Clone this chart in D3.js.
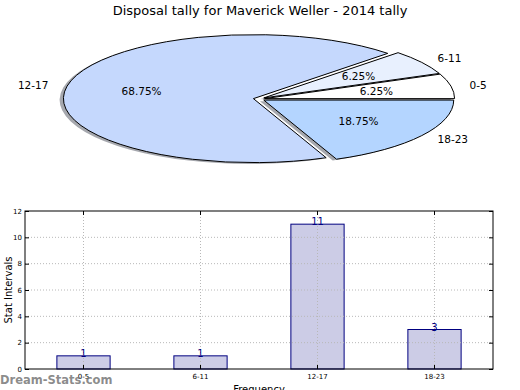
<!DOCTYPE html>
<html><head><meta charset="utf-8">
<script src="https://cdn.jsdelivr.net/npm/d3@7"></script>
<style>body{margin:0;background:#fff}svg{display:block;font-family:"DejaVu Sans",sans-serif}</style>
</head><body>
<script>
const title = "Disposal tally for Maverick Weller - 2014 tally";
const categories = ["0-5", "6-11", "12-17", "18-23"];
const values = [1, 1, 11, 3];
const pieColors = ["#ffffff", "#e8f0fe", "#c5d8fd", "#b4d5ff"];
const yTicks = [0, 2, 4, 6, 8, 10, 12];
const yLabel = "Stat Intervals";
const xLabel = "Frequency";
const watermark = "Dream-Stats.com";

const W = 520, H = 390;
const svg = d3.select("body").append("svg").attr("width", W).attr("height", H);

svg.append("text").attr("x", 260).attr("y", 15).attr("text-anchor", "middle")
  .attr("font-size", 13).attr("fill", "#000").text(title);

// ---- Pie (matplotlib-style: start at 0deg, counterclockwise, exploded, elliptical)
const cx = 259, cy = 99, rx = 190, ry = 64, explode = 0.03;
const total = d3.sum(values);
const pie = d3.pie().sort(null).value(d => d)
  .startAngle(0).endAngle(2 * Math.PI);
const arcsData = pie(values); // used as mathematical CCW angles from 3 o'clock
const arcGen = d3.arc().innerRadius(0).outerRadius(1);
const pg = svg.append("g");
function wedgeGroup(d, ox, oy) {
  const a0 = d.startAngle, a1 = d.endAngle, mid = (a0 + a1) / 2;
  const dx = Math.cos(mid) * explode, dy = -Math.sin(mid) * explode;
  return {
    tr: `translate(${cx + dx * rx + ox},${cy + dy * ry + oy}) scale(${rx},${ry})`,
    path: arcGen({startAngle: Math.PI / 2 - a1, endAngle: Math.PI / 2 - a0})
  };
}
arcsData.forEach(d => {
  const w = wedgeGroup(d, -0.02 * rx, 0.02 * ry);
  pg.append("g").attr("transform", w.tr).append("path").attr("d", w.path)
    .attr("fill", "#3a3f4c").attr("fill-opacity", 0.45).attr("stroke", "none");
});
arcsData.forEach((d, i) => {
  const w = wedgeGroup(d, 0, 0);
  pg.append("g").attr("transform", w.tr).append("path").attr("d", w.path)
    .attr("fill", pieColors[i]).attr("stroke", "#000").attr("stroke-width", 1)
    .attr("vector-effect", "non-scaling-stroke");
});
arcsData.forEach((d, i) => {
  const mid = (d.startAngle + d.endAngle) / 2;
  const c = Math.cos(mid), s = Math.sin(mid);
  const lx = cx + c * (1.1 + explode) * rx, ly = cy - s * (1.1 + explode) * ry;
  svg.append("text").attr("x", lx).attr("y", ly).attr("dy", "0.35em")
    .attr("text-anchor", c < 0 ? "end" : "start").attr("font-size", 10.5)
    .text(categories[i]);
  const px = cx + c * (0.6 + explode) * rx, py = cy - s * (0.6 + explode) * ry;
  svg.append("text").attr("x", px).attr("y", py).attr("dy", "0.35em")
    .attr("text-anchor", "middle").attr("font-size", 10.5)
    .text((values[i] / total * 100).toFixed(2) + "%");
});

// ---- Bar chart
const L = 25, R = 493, T = 211, B = 369;
const x = d3.scaleBand().domain(categories).range([L, R]).padding(0);
const y = d3.scaleLinear().domain([0, 12]).range([B, T]);
const bw = x.bandwidth() * 0.455;
const bg = svg.append("g");
const gridY = yTicks.filter(t => t > 0 && t < 12);
bg.selectAll("rect.bar").data(values).join("rect")
  .attr("x", (d, i) => x(categories[i]) + x.bandwidth() / 2 - bw / 2)
  .attr("y", d => y(d)).attr("width", bw).attr("height", d => B - y(d))
  .attr("fill", "#ccccE6").attr("stroke", "#000080").attr("stroke-width", 1);
bg.selectAll(".vg").data(categories).join("line")
  .attr("x1", d => x(d) + x.bandwidth() / 2).attr("x2", d => x(d) + x.bandwidth() / 2)
  .attr("y1", T).attr("y2", B)
  .attr("stroke", "#b8b8b8").attr("stroke-width", 1).attr("stroke-dasharray", "1,2");
bg.selectAll(".hg").data(gridY).join("line")
  .attr("x1", L).attr("x2", R).attr("y1", d => y(d)).attr("y2", d => y(d))
  .attr("stroke", "#b8b8b8").attr("stroke-width", 1).attr("stroke-dasharray", "1,2");
bg.selectAll("text.val").data(values).join("text")
  .attr("x", (d, i) => x(categories[i]) + x.bandwidth() / 2).attr("y", d => y(d) + 1)
  .attr("text-anchor", "middle").attr("font-size", 10).attr("fill", "#000080")
  .text(d => d);
bg.append("rect").attr("x", L).attr("y", T).attr("width", R - L).attr("height", B - T)
  .attr("fill", "none").attr("stroke", "#000").attr("stroke-width", 1);
const yAxis = d3.axisLeft(y).tickValues(yTicks).tickSize(-4).tickPadding(3);
const ya = svg.append("g").attr("transform", `translate(${L},0)`).call(yAxis);
ya.select(".domain").remove();
ya.selectAll("text").attr("font-size", 7).attr("font-family", "DejaVu Sans");
const yr = svg.append("g").attr("transform", `translate(${R},0)`)
  .call(d3.axisRight(y).tickValues(yTicks).tickSize(-4).tickFormat(""));
yr.select(".domain").remove();
const xa = svg.append("g").attr("transform", `translate(0,${B})`)
  .call(d3.axisBottom(x).tickSize(-4).tickPadding(5));
xa.select(".domain").remove();
xa.selectAll("text").attr("font-size", 7).attr("font-family", "DejaVu Sans");
const xt = svg.append("g").attr("transform", `translate(0,${T})`)
  .call(d3.axisTop(x).tickSize(-4).tickFormat(""));
xt.select(".domain").remove();

svg.append("text").attr("transform", `translate(8,${(T + B) / 2}) rotate(-90)`)
  .attr("text-anchor", "middle").attr("dy", "0.35em").attr("font-size", 10).text(yLabel);
svg.append("text").attr("x", 259).attr("y", 393).attr("text-anchor", "middle")
  .attr("font-size", 10).text(xLabel);
svg.append("text").attr("x", 0).attr("y", 384).attr("font-size", 11.5)
  .attr("font-weight", "bold").attr("fill", "#777").attr("fill-opacity", 0.85).text(watermark);
</script>
</body></html>
